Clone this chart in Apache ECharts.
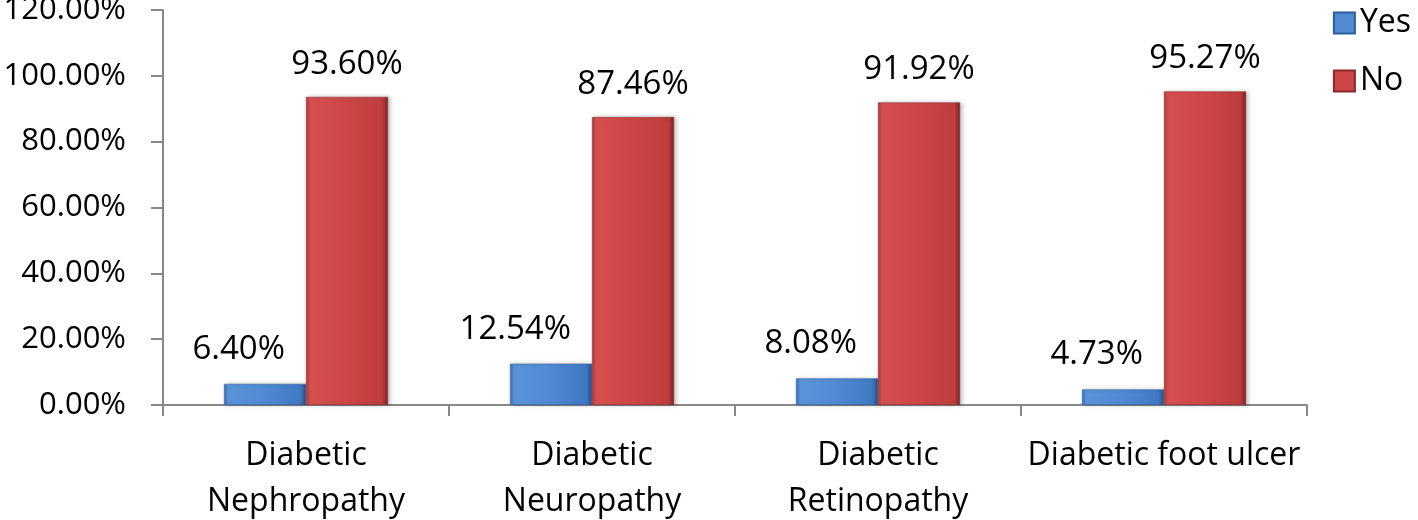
<!DOCTYPE html>
<html>
<head>
<meta charset="utf-8">
<script src="https://cdn.jsdelivr.net/npm/echarts@6/dist/echarts.min.js"></script>
<style>html,body{margin:0;padding:0;background:#fff;}#chart{width:1418px;height:520px;}</style>
</head>
<body>
<div id="chart"></div>
<script>
var categories = ['Diabetic\nNephropathy', 'Diabetic\nNeuropathy', 'Diabetic\nRetinopathy', 'Diabetic foot ulcer'];
var yesValues = [6.40, 12.54, 8.08, 4.73];
var noValues = [93.60, 87.46, 91.92, 95.27];
var seriesNames = ['Yes', 'No'];

var FONT = '"Open Sans", Lato, sans-serif';

function grad(stops) {
  return new echarts.graphic.LinearGradient(0, 0, 1, 0, stops.map(function (s) { return { offset: s[0], color: s[1] }; }));
}
var blueFill = grad([[0, '#3a6fb3'], [0.05, '#5a93d8'], [0.5, '#4f8ad3'], [0.93, '#3f79c2'], [1, '#264f86']]);
var redFill = grad([[0, '#b23838'], [0.05, '#d65050'], [0.5, '#cd4646'], [0.93, '#bf3d3d'], [1, '#7e2222']]);

var chart = echarts.init(document.getElementById('chart'), null, { renderer: 'canvas' });
chart.setOption({
  animation: false,
  backgroundColor: '#fff',
  grid: { left: 163, right: 111, top: 10, bottom: 115, containLabel: false, outerBoundsMode: 'none' },
  legend: {
    orient: 'vertical',
    right: 2, top: 2,
    itemWidth: 21, itemHeight: 21, itemGap: 26,
    icon: 'rect',
    textStyle: { fontFamily: FONT, fontSize: 32, color: '#000' },
    data: [
      { name: 'Yes', itemStyle: { color: '#4f8ad3' } },
      { name: 'No', itemStyle: { color: '#cd4646' } }
    ]
  },
  xAxis: {
    type: 'category',
    data: categories,
    boundaryGap: true,
    axisLine: { lineStyle: { color: '#888', width: 2 } },
    axisTick: { show: true, alignWithLabel: false, length: 11, lineStyle: { color: '#888', width: 2 } },
    axisLabel: { interval: 0, margin: 28, fontFamily: FONT, fontSize: 32, color: '#000', lineHeight: 46 }
  },
  yAxis: {
    type: 'value',
    min: 0, max: 120, interval: 20,
    splitLine: { show: false },
    axisLine: { show: true, lineStyle: { color: '#888', width: 2 } },
    axisTick: { show: true, length: 12, lineStyle: { color: '#888', width: 2 } },
    axisLabel: { margin: 37, fontFamily: FONT, fontSize: 31, color: '#000', formatter: function (v) { return v.toFixed(2) + '%'; } }
  },
  series: [
    {
      name: seriesNames[0], type: 'bar', data: yesValues,
      barWidth: 82, barGap: '0%',
      itemStyle: { color: blueFill, borderColor: '#2e5f9e', borderWidth: 0.5, shadowColor: 'rgba(0,0,0,0.25)', shadowBlur: 4, shadowOffsetX: 2 },
      label: { show: true, position: 'top', distance: 18, align: 'right', offset: [20, 0],
        fontFamily: FONT, fontSize: 33, color: '#000', formatter: function (p) { return p.value.toFixed(2) + '%'; } }
    },
    {
      name: seriesNames[1], type: 'bar', data: noValues,
      barWidth: 82, barGap: '0%',
      itemStyle: { color: redFill, borderColor: '#8a2a2a', borderWidth: 0.5, shadowColor: 'rgba(0,0,0,0.25)', shadowBlur: 4, shadowOffsetX: 2 },
      label: { show: true, position: 'top', distance: 16,
        fontFamily: FONT, fontSize: 33, color: '#000', formatter: function (p) { return p.value.toFixed(2) + '%'; } }
    }
  ]
});
</script>
</body>
</html>
